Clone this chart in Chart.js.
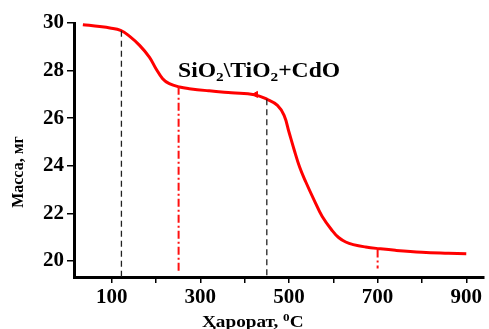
<!DOCTYPE html>
<html>
<head>
<meta charset="utf-8">
<script src="https://cdn.jsdelivr.net/npm/chart.js@4.4.0/dist/chart.umd.min.js"></script>
<style>
  html, body { margin: 0; padding: 0; background: #fff; }
  #wrap { width: 489px; height: 329px; }
</style>
</head>
<body>
<div id="wrap"><canvas id="tgaChart"></canvas></div>
<script>
// TGA curve: temperature (°C) vs mass (mg)
const temps = [35, 73, 96, 120, 140, 163, 185, 200, 215, 230, 253, 275, 320, 370, 422, 451, 474, 489, 500, 511, 524, 538, 557, 575, 598, 612, 628, 645, 673, 703, 740, 800, 860, 900];
const mass  = [29.93, 29.85, 29.79, 29.69, 29.45, 29.06, 28.57, 28.08, 27.66, 27.45, 27.31, 27.24, 27.15, 27.07, 26.99, 26.79, 26.54, 26.12, 25.42, 24.72, 23.95, 23.32, 22.55, 21.87, 21.27, 20.99, 20.80, 20.69, 20.59, 20.52, 20.45, 20.37, 20.33, 20.31];

// marker lines (temperature, top, bottom)
const blackLinesT = [122, 450];
const blackLinesTop = [29.67, 26.8];
const redLinesT = [251, 700];
const redLinesTop = [27.32, 20.48];
const redLinesBottom = [19.54, 19.69];

const yTicks = [20, 22, 24, 26, 28, 30];
const xTicks = [100, 200, 300, 400, 500, 600, 700, 800, 900];
const xLabels = [100, 300, 500, 700, 900];

const arrowPoint = [{ x: 425, y: 27.0 }];

const serif = "'Liberation Serif', 'Times New Roman', serif";

const curve = temps.map((t, i) => ({ x: t, y: mass[i] }));

const datasets = [];
blackLinesT.forEach((t, i) => {
    datasets.push({
        data: [{ x: t, y: blackLinesTop[i] }, { x: t, y: 19.33 }],
        borderColor: '#222',
        borderWidth: 1.3,
        borderDash: [6, 4],
        pointRadius: 0
    });
});
redLinesT.forEach((t, i) => {
    datasets.push({
        data: [{ x: t, y: redLinesTop[i] }, { x: t, y: redLinesBottom[i] }],
        borderColor: '#ff1010',
        borderWidth: 2,
        borderDash: [8, 3, 2, 3],
        pointRadius: 0
    });
});
datasets.push({
    data: curve,
    borderColor: '#ff0000',
    borderWidth: 3,
    tension: 0.4,
    pointRadius: 0
});
datasets.push({
    data: arrowPoint,
    showLine: false,
    pointStyle: 'triangle',
    rotation: 270,
    pointRadius: 3.5,
    pointBackgroundColor: '#ff0000',
    pointBorderColor: '#ff0000'
});

// text drawn on top: compound label and axis titles
const textPlugin = {
    id: 'texts',
    afterDraw(chart) {
        const ctx = chart.ctx;
        ctx.save();
        ctx.fillStyle = '#000';
        ctx.textBaseline = 'alphabetic';
        ctx.textAlign = 'left';
        // compound label (stretched a little, as in the original)
        ctx.save();
        ctx.translate(178, 77);
        ctx.scale(1.18, 1);
        const parts = [['SiO', 20, 0], ['2', 13, 4], ['\\TiO', 20, 0], ['2', 13, 4], ['+CdO', 20, 0]];
        let x = 0;
        parts.forEach(p => {
            ctx.font = 'bold ' + p[1] + 'px ' + serif;
            ctx.fillText(p[0], x, p[2]);
            x += ctx.measureText(p[0]).width;
        });
        ctx.restore();
        // x title
        ctx.save();
        ctx.translate(202, 327);
        ctx.scale(1.2, 1);
        ctx.font = 'bold 16px ' + serif;
        let tx = 0;
        ctx.fillText('Ҳарорат, ', tx, 0);
        tx += ctx.measureText('Ҳарорат, ').width;
        ctx.font = 'bold 11px ' + serif;
        ctx.fillText('0', tx, -6);
        tx += ctx.measureText('0').width;
        ctx.font = 'bold 16px ' + serif;
        ctx.fillText('C', tx, 0);
        ctx.restore();
        // y title
        ctx.translate(23, 172);
        ctx.rotate(-Math.PI / 2);
        ctx.textAlign = 'center';
        ctx.font = 'bold 16px ' + serif;
        ctx.fillText('Масса, мг', 0, 0);
        ctx.restore();
    }
};

const config = {
    type: 'line',
    data: { datasets: datasets },
    options: {
        responsive: false,
        animation: false,
        layout: { padding: { top: 23, right: 4, left: 0, bottom: 0 } },
        plugins: { legend: { display: false }, tooltip: { enabled: false } },
        scales: {
            x: {
                type: 'linear',
                min: 15,
                max: 940,
                afterBuildTicks: s => { s.ticks = xTicks.map(v => ({ value: v })); },
                afterFit: s => { s.height = 52; },
                grid: { drawOnChartArea: false, drawTicks: true, tickLength: 6, color: '#000', lineWidth: 1.5 },
                border: { display: true, color: '#000', width: 3 },
                ticks: {
                    color: '#000',
                    padding: 2,
                    maxRotation: 0,
                    autoSkip: false,
                    font: { family: serif, size: 21, weight: 'bold' },
                    callback: v => xLabels.includes(v) ? String(v) : ''
                }
            },
            y: {
                type: 'linear',
                min: 19.33,
                max: 30,
                afterBuildTicks: s => { s.ticks = yTicks.map(v => ({ value: v })); },
                afterFit: s => { s.width = 74; },
                grid: { drawOnChartArea: false, drawTicks: true, tickLength: 7, color: '#000', lineWidth: 1.5 },
                border: { display: true, color: '#000', width: 3 },
                ticks: {
                    color: '#000',
                    padding: 3,
                    font: { family: serif, size: 21, weight: 'bold' }
                }
            }
        }
    },
    plugins: [textPlugin]
};

const canvas = document.getElementById('tgaChart');
canvas.width = 489;
canvas.height = 329;
const tgaChart = new Chart(canvas.getContext('2d'), config);
</script>
</body>
</html>
